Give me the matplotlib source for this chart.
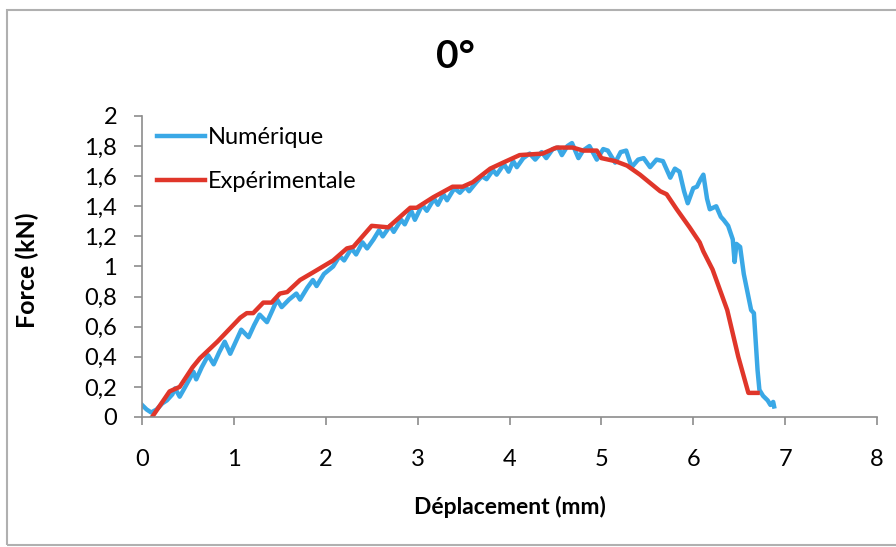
import matplotlib

matplotlib.use("Agg")
import matplotlib.pyplot as plt
from matplotlib.patches import Rectangle

plt.rcParams["font.family"] = ["Lato", "DejaVu Sans"]

# Numérique (simulation), noisy curve
num_x = [0.00, 0.05, 0.10, 0.16, 0.22, 0.27, 0.33, 0.36, 0.41, 0.47, 0.56, 0.59,
         0.65, 0.72, 0.78, 0.84, 0.90, 0.96, 1.02, 1.08, 1.16, 1.22, 1.28, 1.36,
         1.42, 1.47, 1.52, 1.60, 1.68, 1.72, 1.80, 1.86, 1.90, 1.98, 2.08, 2.15,
         2.20, 2.28, 2.33, 2.40, 2.45, 2.52, 2.58, 2.62, 2.70, 2.74, 2.82, 2.86,
         2.93, 2.97, 3.05, 3.10, 3.18, 3.22, 3.28, 3.32, 3.40, 3.46, 3.52, 3.56,
         3.64, 3.70, 3.75, 3.82, 3.86, 3.94, 3.99, 4.04, 4.08, 4.15, 4.22, 4.28,
         4.35, 4.40, 4.47, 4.53, 4.57, 4.63, 4.68, 4.75, 4.80, 4.87, 4.95, 5.02,
         5.07, 5.15, 5.21, 5.27, 5.33, 5.40, 5.46, 5.53, 5.60, 5.67, 5.75, 5.80,
         5.85, 5.90, 5.94, 6.00, 6.04, 6.08, 6.11, 6.15, 6.18, 6.25, 6.30, 6.33,
         6.38, 6.43, 6.45, 6.47, 6.51, 6.55, 6.58, 6.63, 6.66, 6.70, 6.72, 6.76,
         6.81, 6.84, 6.87, 6.88]
num_y = [0.08, 0.05, 0.03, 0.05, 0.09, 0.11, 0.15, 0.19, 0.135, 0.20, 0.30, 0.25,
         0.33, 0.41, 0.35, 0.43, 0.50, 0.42, 0.50, 0.58, 0.53, 0.61, 0.68, 0.63,
         0.71, 0.78, 0.73, 0.78, 0.82, 0.78, 0.86, 0.91, 0.87, 0.95, 1.00, 1.07,
         1.04, 1.12, 1.08, 1.16, 1.12, 1.18, 1.24, 1.20, 1.27, 1.23, 1.31, 1.28,
         1.37, 1.31, 1.41, 1.37, 1.45, 1.41, 1.48, 1.44, 1.52, 1.49, 1.53, 1.50,
         1.56, 1.60, 1.58, 1.64, 1.61, 1.68, 1.63, 1.70, 1.66, 1.72, 1.75, 1.71,
         1.76, 1.72, 1.78, 1.79, 1.74, 1.80, 1.82, 1.72, 1.77, 1.80, 1.71, 1.78,
         1.77, 1.69, 1.76, 1.77, 1.66, 1.71, 1.72, 1.66, 1.71, 1.70, 1.59, 1.65,
         1.63, 1.50, 1.42, 1.52, 1.53, 1.58, 1.61, 1.45, 1.38, 1.40, 1.33, 1.31,
         1.27, 1.18, 1.03, 1.15, 1.13, 0.95, 0.86, 0.71, 0.69, 0.31, 0.18, 0.14,
         0.11, 0.08, 0.10, 0.07]

# Expérimentale
exp_x = [0.11, 0.30, 0.41, 0.55, 0.63, 0.82, 1.07, 1.14, 1.21, 1.32, 1.41, 1.50,
         1.58, 1.72, 1.86, 2.08, 2.23, 2.30, 2.50, 2.68, 2.92, 2.99, 3.17, 3.38,
         3.49, 3.60, 3.79, 3.93, 4.11, 4.36, 4.51, 4.69, 4.80, 4.95, 5.00, 5.15,
         5.28, 5.42, 5.56, 5.64, 5.71, 5.82, 5.96, 6.07, 6.11, 6.21, 6.37, 6.49,
         6.60, 6.70]
exp_y = [0.00, 0.17, 0.20, 0.33, 0.39, 0.50, 0.66, 0.69, 0.69, 0.76, 0.76, 0.82,
         0.83, 0.91, 0.96, 1.04, 1.12, 1.13, 1.27, 1.26, 1.39, 1.39, 1.46, 1.53,
         1.53, 1.56, 1.65, 1.69, 1.74, 1.75, 1.79, 1.79, 1.77, 1.77, 1.72, 1.70,
         1.67, 1.61, 1.54, 1.50, 1.48, 1.38, 1.26, 1.16, 1.10, 0.98, 0.71, 0.40,
         0.16, 0.16]

x_ticks = [0, 1, 2, 3, 4, 5, 6, 7, 8]
y_ticks = [0, 0.2, 0.4, 0.6, 0.8, 1.0, 1.2, 1.4, 1.6, 1.8, 2.0]
y_tick_labels = ["0", "0,2", "0,4", "0,6", "0,8", "1", "1,2", "1,4", "1,6", "1,8", "2"]

fig = plt.figure(figsize=(8.96, 5.47), dpi=100)
ax = fig.add_axes([0.1585, 0.2377, 0.8203, 0.5503])

ax.plot(num_x, num_y, color="#3AA8E6", linewidth=3.2, label="Numérique",
        solid_joinstyle="round")
ax.plot(exp_x, exp_y, color="#E0362A", linewidth=3.2, label="Expérimentale",
        solid_joinstyle="round")

ax.set_xlim(0, 8)
ax.set_ylim(0, 2)
ax.set_xticks(x_ticks)
ax.set_yticks(y_ticks)
ax.set_yticklabels(y_tick_labels)
ax.tick_params(axis="both", direction="out", length=6, width=1.2, color="#8c8c8c",
               labelsize=17)
ax.tick_params(axis="x", pad=17)
ax.tick_params(axis="y", pad=12)
for side in ["top", "right"]:
    ax.spines[side].set_visible(False)
for side in ["left", "bottom"]:
    ax.spines[side].set_color("#8c8c8c")
    ax.spines[side].set_linewidth(1.2)

fig.text(0.569, 0.073, "Déplacement (mm)", fontsize=16.5, fontweight="bold",
         ha="center", va="center")
fig.text(0.031, 0.506, "Force (kN)", fontsize=18, fontweight="bold",
         ha="center", va="center", rotation=90)

fig.text(0.508, 0.897, "0°", fontsize=28, fontweight="bold", ha="center", va="center")

ax.legend(loc="upper left", bbox_to_anchor=(0.02, 0.962), frameon=False,
          fontsize=17, handlelength=2.05, handletextpad=0.12, labelspacing=0.95,
          borderpad=0, borderaxespad=0)

fig.patches.append(Rectangle((7 / 896, 2 / 547), 1.0, 535 / 547, transform=fig.transFigure,
                             fill=False, edgecolor="#b0b0b0", linewidth=1.5))

fig.savefig("out.png", dpi=100)
